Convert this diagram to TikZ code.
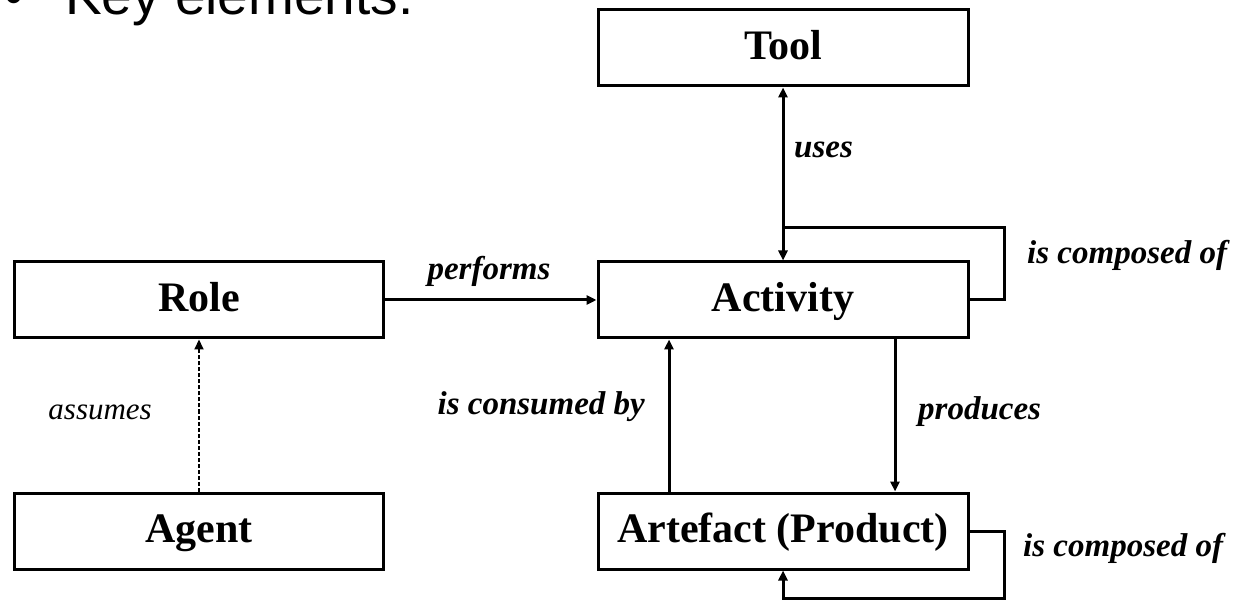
\documentclass[tikz,border=0pt]{standalone}
\usepackage{fontspec}
\setmainfont{Liberation Serif}
\newfontfamily\headfont{Liberation Sans}
\usetikzlibrary{arrows.meta}
\newcommand*{\boxw}{370pt}
\newcommand*{\boxh}{76pt}
\newcommand*{\midx}{783}
\tikzset{
  >={Triangle[length=10pt,width=9pt]},
  entity/.style={draw, line width=3pt, minimum width=\boxw, minimum height=\boxh,
    inner sep=0pt, text height=27pt, text depth=4pt,
    font=\fontsize{42}{50}\selectfont\bfseries},
  rel/.style={font=\fontsize{33}{40}\selectfont\bfseries\itshape, inner sep=0pt},
  link/.style={line width=3pt, ->},
}

\begin{document}
\begin{tikzpicture}[x=1pt,y=-1pt]
    \useasboundingbox (0,0) rectangle (1245,601);
    \clip (0,0) rectangle (1245,601);
    % heading
    \node [font=\headfont\fontsize{55}{66}\selectfont, anchor=base west, inner sep=0pt] (bullet) at (4,15) {•};
    \node [font=\headfont\fontsize{55}{66}\selectfont, anchor=base west, inner sep=0pt] (title) at (65,15) {Key elements:};
    % entities
    \node [entity] (tool)     at (\midx, 48) {Tool};
    \node [entity] (activity) at (\midx,300) {Activity};
    \node [entity] (artefact) at (\midx,531) {Artefact (Product)};
    \node [entity, minimum width=369pt] (role)  at (199,300) {Role};
    \node [entity, minimum width=369pt] (agent) at (199,531) {Agent};
    \coordinate (loopA) at (1004,228);
    \coordinate (joinA) at (\midx,228);
    \coordinate (loopB) at (1004,598);
    % relations
    \draw [link, <->] (tool) -- (activity);
    \draw [line width=3pt] (activity.east) -| (loopA) -- (joinA);
    \draw [link] (role) -- (activity);
    \draw [link, line width=2pt, dash pattern=on 4pt off 2pt] (agent) -- (role);
    \draw [link] ([xshift=-114pt]artefact.north) -- ([xshift=-114pt]activity.south);
    \draw [link] ([xshift=112pt]activity.south) -- ([xshift=112pt]artefact.north);
    \draw [link] (artefact.east) -| (loopB) -| (artefact.south);
    % labels
    \node [rel, anchor=west] (lblUses)      at (794,150) {uses};
    \node [rel]              (lblPerforms)  at (489,271) {performs};
    \node [rel, anchor=west] (lblComposedA) at (1027,255) {is composed of};
    \node [rel, anchor=east] (lblConsumed)  at (645,407) {is consumed by};
    \node [rel, anchor=west] (lblProduces)  at (918,412) {produces};
    \node [rel, anchor=west] (lblComposedB) at (1023,548) {is composed of};
    \node [rel, font=\fontsize{31}{38}\selectfont\itshape, anchor=east] (lblAssumes) at (152,412) {assumes};
\end{tikzpicture}
\end{document}
